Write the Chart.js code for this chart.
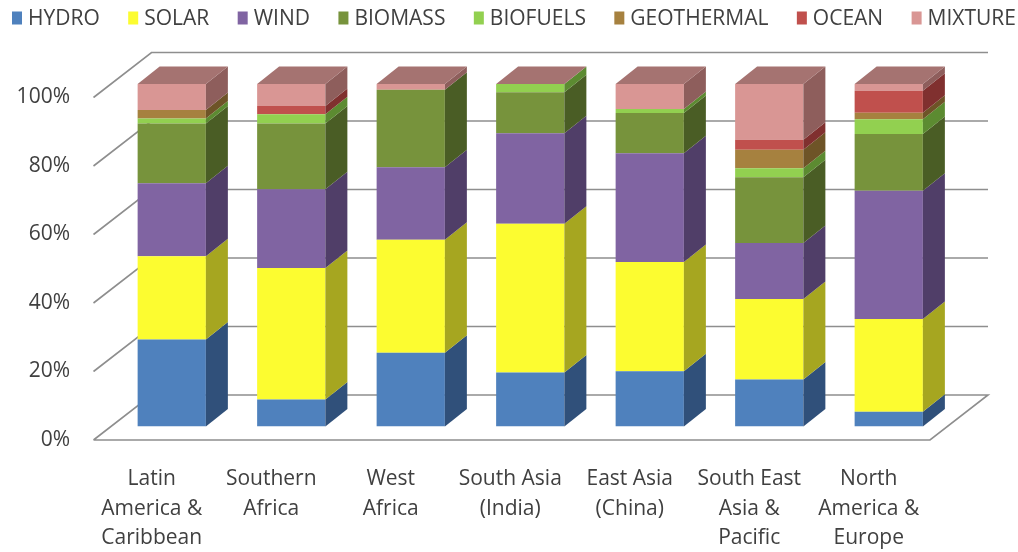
<!DOCTYPE html>
<html>
<head>
<meta charset="utf-8">
<script src="https://cdn.jsdelivr.net/npm/chart.js@4.4.1/dist/chart.umd.min.js"></script>
<style>
  html, body { margin: 0; padding: 0; background: #ffffff; }
  #wrap { width: 1018px; height: 552px; }
</style>
</head>
<body>
<div id="wrap"><canvas id="c" width="1018" height="552"></canvas></div>
<script>
// Share of each energy source by region (percent of total)
const categories = [
  ["Latin", "America &", "Caribbean"],
  ["Southern", "Africa"],
  ["West", "Africa"],
  ["South Asia", "(India)"],
  ["East Asia", "(China)"],
  ["South East", "Asia &", "Pacific"],
  ["North", "America &", "Europe"]
];
const hydro      = [25.4,  7.9, 21.5, 15.8, 16.1, 13.7,  4.3];
const solar      = [24.3, 38.4, 33.0, 43.4, 31.9, 23.5, 27.1];
const wind       = [21.3, 23.0, 21.2, 26.4, 31.8, 16.4, 37.4];
const biomass    = [17.5, 19.2, 22.6, 12.0, 11.7, 19.2, 16.6];
const biofuels   = [ 1.4,  2.7,  0.0,  2.4,  1.2,  2.6,  4.3];
const geothermal = [ 2.5,  0.0,  0.0,  0.0,  0.0,  5.4,  1.9];
const ocean      = [ 0.0,  2.4,  0.0,  0.0,  0.0,  2.9,  6.4];
const mixture    = [ 7.6,  6.4,  1.7,  0.0,  7.3, 16.3,  2.0];
const yTicks = [0, 20, 40, 60, 80, 100];

const FONT = "'Open Sans', 'DejaVu Sans', sans-serif";
const TEXT = "#404040";

// front colour, side colour
const palette = {
  HYDRO:      ["#4F81BD", "#30507A"],
  SOLAR:      ["#FCFC30", "#A6A620"],
  WIND:       ["#8064A2", "#503E68"],
  BIOMASS:    ["#77933C", "#4A5D25"],
  BIOFUELS:   ["#92D050", "#5C8B31"],
  GEOTHERMAL: ["#A6813F", "#6E5427"],
  OCEAN:      ["#C0504D", "#80302F"],
  MIXTURE:    ["#D99694", "#8E5E5C"]
};
const TOP_FACE = "#A57371";

const series = [
  ["HYDRO", hydro], ["SOLAR", solar], ["WIND", wind], ["BIOMASS", biomass],
  ["BIOFUELS", biofuels], ["GEOTHERMAL", geothermal], ["OCEAN", ocean], ["MIXTURE", mixture]
];

// Perspective offsets (pixels) relative to the bars' front plane
const BAR_DEPTH = { dx: 22, dy: -17.5 };
const WALL_BACK = { dx: 39.5, dy: -31.5 };
const WALL_FRONT = { dx: -18.5, dy: 13.5 };

function poly(ctx, pts, fill) {
  ctx.beginPath();
  ctx.moveTo(pts[0][0], pts[0][1]);
  for (let i = 1; i < pts.length; i++) ctx.lineTo(pts[i][0], pts[i][1]);
  ctx.closePath();
  ctx.fillStyle = fill;
  ctx.fill();
}

// Back wall gridlines, floor and the slanted ends at the value axis
const wallPlugin = {
  id: 'wall',
  beforeDatasetsDraw(chart) {
    const { ctx, chartArea: a, scales: { y } } = chart;
    ctx.save();
    ctx.strokeStyle = "#8E8E8E";
    ctx.lineWidth = 1.6;
    yTicks.forEach(v => {
      const p = y.getPixelForValue(v);
      const fx = a.left + WALL_FRONT.dx, fy = p + WALL_FRONT.dy;
      const bx = a.left + WALL_BACK.dx, by = p + WALL_BACK.dy;
      const rx = a.right + WALL_BACK.dx;
      ctx.beginPath();
      ctx.moveTo(fx, fy);
      ctx.lineTo(bx, by);
      ctx.lineTo(rx, by);
      if (v === 0) {
        ctx.lineTo(a.right + WALL_FRONT.dx, fy);
        ctx.lineTo(fx, fy);
      }
      ctx.stroke();
    });
    ctx.restore();
  },
  afterDatasetsDraw(chart) {
    const { ctx } = chart;
    ctx.save();
    const n = chart.data.datasets.length;
    for (let d = 0; d < n; d++) {
      const meta = chart.getDatasetMeta(d);
      const side = chart.data.datasets[d].sideColor;
      meta.data.forEach((el, i) => {
        const val = chart.data.datasets[d].data[i];
        const r = el.x + el.width / 2;
        if (val > 0) {
          poly(ctx, [[r, el.y], [r + BAR_DEPTH.dx, el.y + BAR_DEPTH.dy],
                     [r + BAR_DEPTH.dx, el.base + BAR_DEPTH.dy], [r, el.base]], side);
        }
        if (d === n - 1) {
          const l = el.x - el.width / 2;
          poly(ctx, [[l, el.y], [l + BAR_DEPTH.dx, el.y + BAR_DEPTH.dy],
                     [r + BAR_DEPTH.dx, el.y + BAR_DEPTH.dy], [r, el.y]], TOP_FACE);
        }
      });
    }
    ctx.restore();
  }
};

// Single-row legend spread across the top
const legendRow = {
  id: 'legendRow',
  afterDraw(chart) {
    const { ctx } = chart;
    const ds = chart.data.datasets;
    const left = 12, right = 1016, cy = 18, box = 10, boxH = 13, gap = 6;
    ctx.save();
    ctx.font = "21px " + FONT;
    const widths = ds.map(d => ctx.measureText(d.label).width);
    const used = widths.reduce((s, w) => s + w + box + gap, 0);
    const space = (right - left - used) / (ds.length - 1);
    let x = left;
    ds.forEach((d, i) => {
      ctx.fillStyle = d.backgroundColor;
      ctx.fillRect(x, cy - boxH / 2, box, boxH);
      ctx.fillStyle = TEXT;
      ctx.textBaseline = 'middle';
      ctx.textAlign = 'left';
      ctx.fillText(d.label, x + box + gap, cy + 1);
      x += box + gap + widths[i] + space;
    });
    ctx.restore();
  }
};

new Chart(document.getElementById('c'), {
  type: 'bar',
  data: {
    labels: categories,
    datasets: series.map(([name, values]) => ({
      label: name,
      data: values,
      backgroundColor: palette[name][0],
      sideColor: palette[name][1],
      borderWidth: 0,
      barPercentage: 0.571,
      categoryPercentage: 1.0
    }))
  },
  options: {
    responsive: false,
    animation: false,
    layout: { padding: { top: 84, right: 69.5, bottom: 0, left: 0 } },
    plugins: { legend: { display: false }, tooltip: { enabled: false } },
    scales: {
      x: {
        stacked: true,
        grid: { display: false, drawTicks: false },
        border: { display: false },
        afterFit(s) { s.height = 125.5; },
        ticks: {
          color: TEXT,
          font: { family: FONT, size: 21, lineHeight: 1.405 },
          labelOffset: -20,
          padding: 38,
          maxRotation: 0,
          autoSkip: false
        }
      },
      y: {
        stacked: true,
        min: 0,
        max: 100,
        grid: { display: false, drawTicks: false },
        border: { display: false },
        afterFit(s) { s.width = 112; },
        afterBuildTicks(s) { s.ticks = yTicks.map(v => ({ value: v })); },
        ticks: {
          color: TEXT,
          font: { family: FONT, size: 21 },
          padding: 42,
          labelOffset: 13.5,
          callback: v => v + '%'
        }
      }
    }
  },
  plugins: [wallPlugin, legendRow]
});
</script>
</body>
</html>
